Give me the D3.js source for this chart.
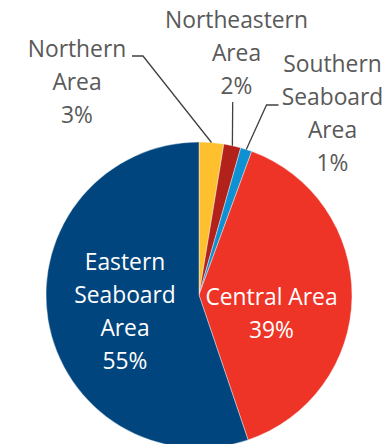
<!DOCTYPE html>
<html><head><meta charset="utf-8">
<script src="https://cdn.jsdelivr.net/npm/d3@7"></script>
<style>html,body{margin:0;padding:0;background:#fff;}svg{display:block;}</style>
</head><body>
<svg id="chart" width="390" height="444"></svg>
<script>
const categories = ["Northern Area", "Northeastern Area", "Southern Seaboard Area", "Central Area", "Eastern Seaboard Area"];
const values = [2.6, 1.8, 1.2, 39.2, 55.2];
const colors = ["#FEC12D", "#B2221B", "#0E90D2", "#EE3327", "#00457E"];
// label lines (text) for each category
const labelLines = [["Northern", "Area"], ["Northeastern", "Area"], ["Southern", "Seaboard", "Area"], ["Central Area"], ["Eastern", "Seaboard", "Area"]];

const svg = d3.select("#chart");
const W = 390, H = 444;
const cx = 199, cy = 295, R = 153;
const font = "'Open Sans', sans-serif";
const fs = 22.8, lh = 33;

const pie = d3.pie().sort(null).value(d => d)(values);
const arc = d3.arc().innerRadius(0).outerRadius(R);
const g = svg.append("g").attr("transform", `translate(${cx},${cy})`);
g.selectAll("path").data(pie).join("path")
  .attr("d", arc).attr("fill", (d, i) => colors[i])
  .attr("stroke", "#fff").attr("stroke-width", 0.4);

const fmt = d3.format(".0f");
// label anchor positions (x center, first baseline) and text color
const labelPos = [
  {x: 77, y: 56.5, fill: "#595959"},
  {x: 236.5, y: 28, fill: "#595959"},
  {x: 332.5, y: 71.5, fill: "#595959"},
  {x: 271.5, y: 305, fill: "#ffffff"},
  {x: 125, y: 270, fill: "#ffffff"}
];
labelLines.forEach((lines, i) => {
  const all = lines.concat([fmt(values[i]) + "%"]);
  const t = svg.append("text").attr("text-anchor", "middle")
    .attr("font-family", font).attr("font-size", fs).attr("fill", labelPos[i].fill);
  all.forEach((s, j) => t.append("tspan").attr("x", labelPos[i].x).attr("y", labelPos[i].y + j * lh).text(s));
});

// leader lines from labels to slice edges
function edgePoint(i, frac) {
  const d = pie[i];
  const a = d.startAngle + (d.endAngle - d.startAngle) * frac;
  return [cx + R * Math.sin(a), cy - R * Math.cos(a)];
}
const leaders = [
  {pts: [[132, 56], [143, 56]], i: 0},
  {pts: [[232.7, 102]], i: 1},
  {pts: [[278.5, 105], [266.5, 105]], i: 2}
];
leaders.forEach(l => {
  const p = l.pts.concat([edgePoint(l.i, 0.5)]);
  svg.append("path").attr("d", d3.line()(p)).attr("fill", "none")
    .attr("stroke", "#404040").attr("stroke-width", 1.3);
});
</script>
</body></html>
